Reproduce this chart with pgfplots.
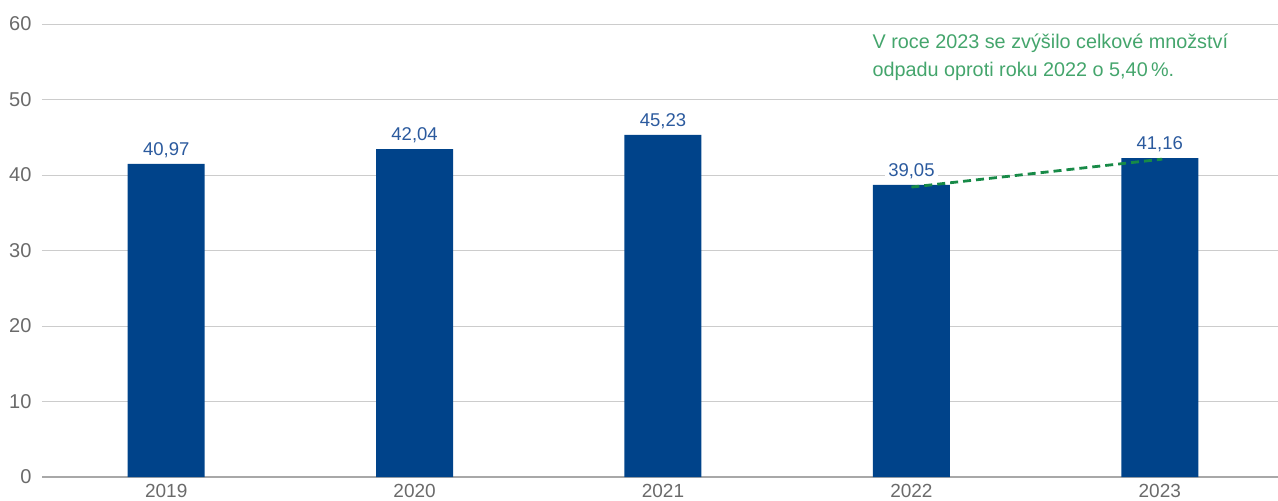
\documentclass[border=0pt]{standalone}
\usepackage{fontspec}
\setmainfont{Liberation Sans}
\usepackage{pgfplots}
\pgfplotsset{compat=1.18}

\definecolor{barblue}{HTML}{00438A}
\definecolor{lblblue}{HTML}{2B5A9E}
\definecolor{tickgray}{HTML}{6A6A6A}
\definecolor{gridgray}{HTML}{CCCCCC}
\definecolor{basegray}{HTML}{A8A8A8}
\definecolor{dashgreen}{HTML}{178A47}
\definecolor{notegreen}{HTML}{44A56C}

\begin{document}
\begin{tikzpicture}
\path[use as bounding box] (-42pt,-24pt) rectangle (1236pt,477pt);
\begin{axis}[
    at={(0,0)}, anchor=south west,
    scale only axis,
    width=1236pt, height=453pt,
    xmin=-0.5, xmax=4.476,
    ymin=0, ymax=60,
    ytick={0,10,...,60},
    xtick={0,1,2,3,4},
    xticklabels={2019,2020,2021,2022,2023},
    major tick length=0pt,
    axis line style={draw=none},
    ymajorgrids,
    grid style={gridgray, line width=1pt},
    extra y ticks={0},
    extra y tick labels={},
    extra y tick style={grid style={basegray, line width=1.2pt}},
    yticklabel style={font=\fontsize{20}{24}\selectfont, text=tickgray, xshift=-7pt},
    xticklabel style={font=\fontsize{19}{23}\selectfont, text=tickgray, yshift=-4pt},
    /pgf/number format/assume math mode=true,
    clip=false,
]
\addplot[ybar, bar width=77pt, fill=barblue, draw=none,
    point meta=explicit,
    nodes near coords,
    nodes near coords style={font=\fontsize{18.5}{22}\selectfont, text=lblblue,
        fill=white, inner sep=3pt, anchor=south, yshift=3pt,
        /pgf/number format/.cd, fixed, fixed zerofill, precision=2, use comma, assume math mode=true},
] coordinates {
    (0,41.46) [40.97]
    (1,43.44) [42.04]
    (2,45.30) [45.23]
    (3,38.68) [39.05]
    (4,42.25) [41.16]
};
\addplot[dashgreen, line width=2.8pt, dash pattern=on 8pt off 5pt] coordinates {
    (3,38.4) (4.01,42.1)
};
\node[anchor=north west, inner sep=0pt, align=left, text=notegreen,
      font=\fontsize{19.8}{28}\selectfont]
    at (axis cs:2.843,58.7) {V roce 2023 se zvýšilo celkové množství\\odpadu oproti roku 2022 o 5,40\,\%.};
\end{axis}
\end{tikzpicture}
\end{document}
